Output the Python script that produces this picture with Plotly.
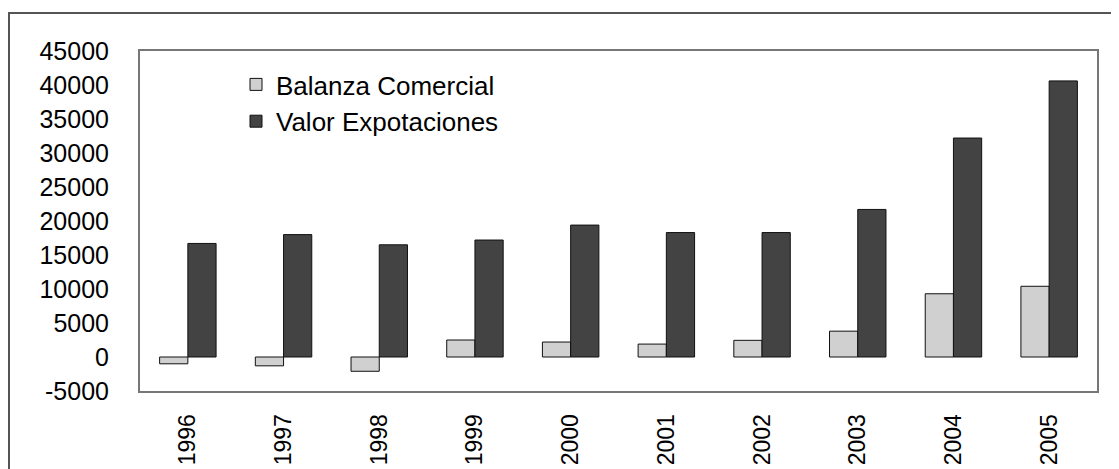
import plotly.graph_objects as go

years = ["1996", "1997", "1998", "1999", "2000", "2001", "2002", "2003", "2004", "2005"]
balanza = [-1000, -1300, -2100, 2500, 2200, 1900, 2450, 3800, 9300, 10400]
exportaciones = [16700, 18000, 16500, 17200, 19400, 18300, 18300, 21700, 32200, 40600]
y_ticks = [-5000, 0, 5000, 10000, 15000, 20000, 25000, 30000, 35000, 40000, 45000]

# the page body has an 8px margin, so the figure is drawn from (8, 8)
OFF = 8
W, H = 1119 - OFF, 469 - OFF
L, R, T, B = 140 - OFF, 22, 51 - OFF, 78
pw, ph = W - L - R, H - T - B

def px(x):  # screen x -> paper
    return (x - OFF - L) / pw

def py(y):  # screen y -> paper
    return (H - B - (y - OFF)) / ph

fig = go.Figure()
fig.add_trace(go.Bar(
    x=years, y=balanza, name="Balanza Comercial",
    marker=dict(color="#d0d0d0", line=dict(color="#111111", width=1)),
    legendgroup="a",
))
fig.add_trace(go.Bar(
    x=years, y=exportaciones, name="Valor Expotaciones",
    marker=dict(color="#434343", line=dict(color="#111111", width=1)),
    legendgroup="b",
))

font_family = "Liberation Sans, Arial, sans-serif"

fig.update_layout(
    width=W, height=H,
    margin=dict(l=L, r=R, t=T, b=B, autoexpand=False),
    paper_bgcolor="white", plot_bgcolor="white",
    barmode="group", bargap=0.41, bargroupgap=0,
    font=dict(family=font_family, color="black"),
    showlegend=True,
    legend=dict(
        x=px(236), y=py(61), xanchor="left", yanchor="top",
        font=dict(size=26, family=font_family, color="black"),
        bgcolor="rgba(0,0,0,0)", tracegroupgap=0,
    ),
    xaxis=dict(
        showgrid=False, zeroline=False, tickangle=-90,
        tickfont=dict(size=23, family=font_family, color="black"),
        showline=True, linecolor="#777777", linewidth=2, mirror=True,
        ticks="", ticklabelstandoff=12,
    ),
    yaxis=dict(
        range=[-5000, 45000], tickvals=y_ticks,
        ticktext=[str(v) for v in y_ticks],
        showgrid=False, zeroline=False,
        tickfont=dict(size=25, family=font_family, color="black"),
        showline=True, linecolor="#777777", linewidth=2, mirror=True,
        ticks="", ticklabelstandoff=24,
    ),
    shapes=[dict(
        type="rect", xref="paper", yref="paper",
        x0=px(9), x1=px(1118), y0=py(475), y1=py(13),
        line=dict(color="#555555", width=2), fillcolor="rgba(0,0,0,0)",
        layer="below",
    )],
)

fig.write_html("out.html")
